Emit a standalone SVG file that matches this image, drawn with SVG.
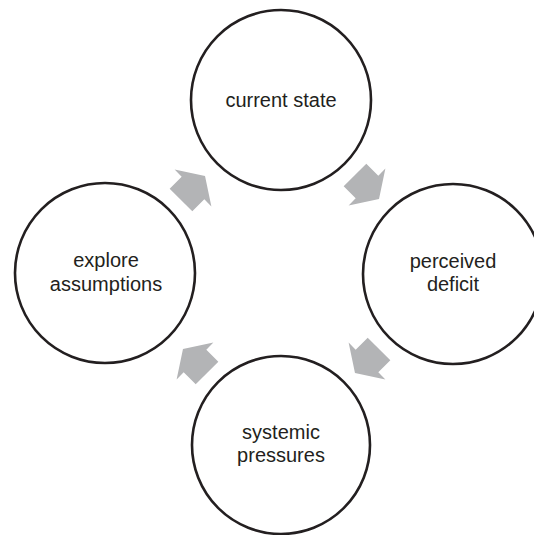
<svg xmlns="http://www.w3.org/2000/svg" width="534" height="535" viewBox="0 0 534 535">
<style>
.c{fill:#fff;stroke:#231f20;stroke-width:2.6}
.t{font-family:"Liberation Sans",Arial,Helvetica,sans-serif;font-size:20px;fill:#231f20;text-anchor:middle}
.a{fill:#b3b4b6}
</style>
<defs>
<polygon id="arr" points="-17,-16 0,-16 0,-26 17,0 0,26 0,16 -17,16"/>
</defs>
<rect width="534" height="535" fill="#fff"/>
<g id="current-state">
<circle class="c" cx="281" cy="100" r="90"/>
<text class="t" x="281" y="107">current state</text>
</g>
<g id="perceived-deficit">
<circle class="c" cx="453" cy="274" r="90"/>
<text class="t" x="453" y="268">perceived</text>
<text class="t" x="453" y="291">deficit</text>
</g>
<g id="systemic-pressures">
<circle class="c" cx="281" cy="445" r="89"/>
<text class="t" x="281" y="439">systemic</text>
<text class="t" x="281" y="462">pressures</text>
</g>
<g id="explore-assumptions">
<circle class="c" cx="105" cy="273" r="90"/>
<text class="t" x="106" y="267">explore</text>
<text class="t" x="106" y="291">assumptions</text>
</g>
<g id="connectors">
<use href="#arr" class="a" transform="translate(367,187) rotate(45)"/>
<use href="#arr" class="a" transform="translate(367,361) rotate(135)"/>
<use href="#arr" class="a" transform="translate(195,361) rotate(225)"/>
<use href="#arr" class="a" transform="translate(193,188) rotate(-45)"/>
</g>
</svg>
